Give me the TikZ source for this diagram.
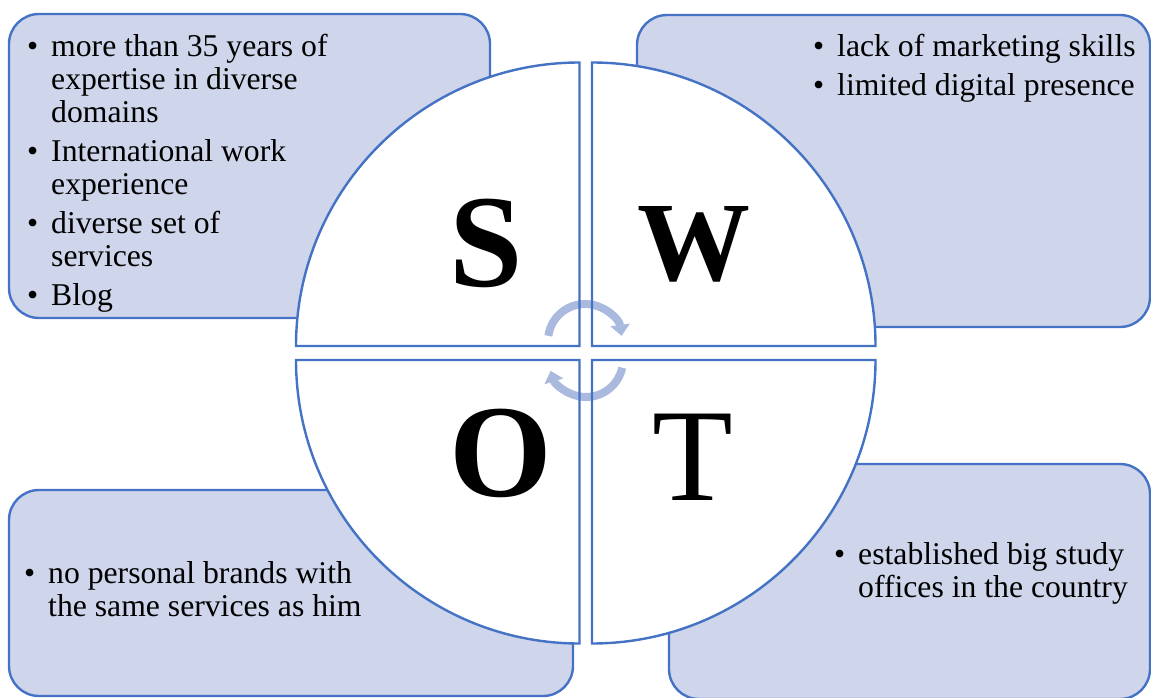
\documentclass[tikz,border=0pt]{standalone}
\usepackage{fontspec}
\setmainfont{Liberation Serif}
\usetikzlibrary{arrows.meta}
\definecolor{swotblue}{RGB}{68,114,196}
\definecolor{boxfill}{RGB}{207,213,234}
\definecolor{arrowblue}{RGB}{170,186,222}
\newcommand{\bul}{\makebox[24pt][l]{\textbullet}}
\begin{document}
\begin{tikzpicture}[x=1pt,y=1pt,
  infobox/.style={draw=swotblue, fill=boxfill, line width=2.4pt, rounded corners=30pt},
  quadline/.style={draw=swotblue, line width=2.4pt},
  bigletter/.style={anchor=base, inner sep=0pt, font=\fontsize{132}{140}\selectfont\bfseries},
  itemtext/.style={anchor=base west, inner sep=0pt, font=\fontsize{31.7}{33}\selectfont},
  cyc/.style={draw=arrowblue, line width=8pt, -{Triangle[width=19pt,length=11pt]}}
]
\useasboundingbox (0,0) rectangle (1151,-698);
% boxes
\path[infobox] (9,-14) rectangle (490,-318);
\path[infobox] (637,-15) rectangle (1150,-327);
\path[infobox] (9,-490) rectangle (573,-696);
\path[infobox] (669,-464) rectangle (1150,-699);
% box texts
\node[itemtext] (stxt) at (27,-57) {\begin{tabular}[t]{@{}l@{}l@{}}
\bul & more than 35 years of\\
 & expertise in diverse\\
 & domains\\[6pt]
\bul & International work\\
 & experience\\[6pt]
\bul & diverse set of\\
 & services\\[6pt]
\bul & Blog
\end{tabular}};
\node[itemtext] (wtxt) at (813,-57) {\begin{tabular}[t]{@{}l@{}l@{}}
\bul & lack of marketing skills\\[6pt]
\bul & limited digital presence
\end{tabular}};
\node[itemtext] (otxt) at (24,-583) {\begin{tabular}[t]{@{}l@{}l@{}}
\bul & no personal brands with\\
 & the same services as him
\end{tabular}};
\node[itemtext] (ttxt) at (834,-564) {\begin{tabular}[t]{@{}l@{}l@{}}
\bul & established big study\\
 & offices in the country
\end{tabular}};
% quadrant fills
\fill[white] (579.5,-346) -- ++(-283.5,0) arc[start angle=180,end angle=90,radius=283.5] -- cycle;
\fill[white] (592,-346) -- ++(283.5,0) arc[start angle=0,end angle=90,radius=283.5] -- cycle;
\fill[white] (579.5,-360) -- ++(-283.5,0) arc[start angle=180,end angle=270,radius=283.5] -- cycle;
\fill[white] (592,-360) -- ++(283.5,0) arc[start angle=0,end angle=-90,radius=283.5] -- cycle;
% letters
\node[bigletter] (S) at (486.5,-286) {S};
\node[bigletter, font=\fontsize{113}{120}\selectfont\bfseries] (W) at (693.5,-280) {W};
\node[bigletter] (O) at (501,-496) {O};
\node[bigletter, font=\fontsize{132}{140}\selectfont] (T) at (692.5,-500) {T};
% cycle arrows
\draw[cyc] ([shift={(172:37)}]585,-341) arc[start angle=172,end angle=8,radius=37];
\draw[cyc] ([shift={(-12:37)}]586,-360) arc[start angle=-12,end angle=-163,radius=37];
% quadrant outlines
\draw[quadline] (579.5,-346) -- ++(-283.5,0) arc[start angle=180,end angle=90,radius=283.5] -- cycle;
\draw[quadline] (592,-346) -- ++(283.5,0) arc[start angle=0,end angle=90,radius=283.5] -- cycle;
\draw[quadline] (579.5,-360) -- ++(-283.5,0) arc[start angle=180,end angle=270,radius=283.5] -- cycle;
\draw[quadline] (592,-360) -- ++(283.5,0) arc[start angle=0,end angle=-90,radius=283.5] -- cycle;
\end{tikzpicture}
\end{document}
